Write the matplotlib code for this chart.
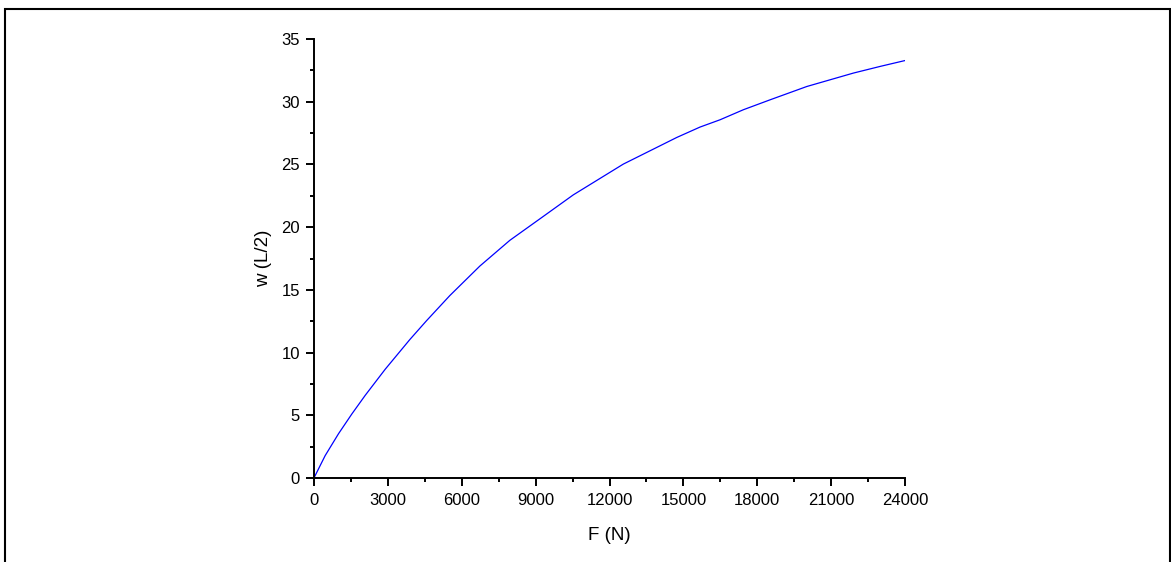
import matplotlib
matplotlib.use("Agg")
import matplotlib.pyplot as plt
from matplotlib.patches import Rectangle
from matplotlib.ticker import MultipleLocator

plt.rcParams['font.family'] = ['Liberation Sans', 'DejaVu Sans']

# Midspan deflection w(L/2) against applied load F
force = [0, 459, 1003, 1543, 2084, 2896, 3898, 4575, 5520, 6738, 7956,
         9310, 10531, 12561, 14728, 15675, 16487, 17434, 18518, 20008,
         21901, 22985, 24000]
deflection = [0, 1.80, 3.55, 5.12, 6.60, 8.68, 11.05, 12.55, 14.55, 16.90, 18.95,
              20.85, 22.57, 25.02, 27.14, 27.97, 28.55, 29.35, 30.14, 31.20,
              32.27, 32.80, 33.27]

x_ticks = [0, 3000, 6000, 9000, 12000, 15000, 18000, 21000, 24000]
y_ticks = [0, 5, 10, 15, 20, 25, 30, 35]

fig = plt.figure(figsize=(11.71, 5.62), dpi=100)
ax = fig.add_axes([0.268, 0.149, 0.505, 0.782])

ax.plot(force, deflection, color='#0000ff', lw=0.9)

ax.set_xlim(0, 24000)
ax.set_ylim(0, 35)
ax.set_xticks(x_ticks)
ax.set_yticks(y_ticks)
ax.xaxis.set_minor_locator(MultipleLocator(1500))
ax.yaxis.set_minor_locator(MultipleLocator(2.5))

for side in ['top', 'right']:
    ax.spines[side].set_visible(False)
for side in ['left', 'bottom']:
    ax.spines[side].set_linewidth(1.4)

ax.tick_params(which='major', direction='out', length=5.5, width=1.4,
               labelsize=12)
ax.tick_params(axis='x', which='major', pad=5)
ax.tick_params(axis='y', which='major', pad=4.5)
ax.tick_params(which='minor', direction='out', length=3, width=1.4)

ax.set_xlabel('F (N)', fontsize=13.5, labelpad=13.5)
ax.set_ylabel('w (L/2)', fontsize=13.5, labelpad=7)

# outer frame around the whole figure
frame = Rectangle((5.5 / 1171, -0.1), (1169.5 - 5.5) / 1171, 1.1 - 9 / 562,
                  transform=fig.transFigure, fill=False, edgecolor='black',
                  lw=1.5, clip_on=False)
fig.patches.append(frame)

fig.savefig('out.png', dpi=100)
